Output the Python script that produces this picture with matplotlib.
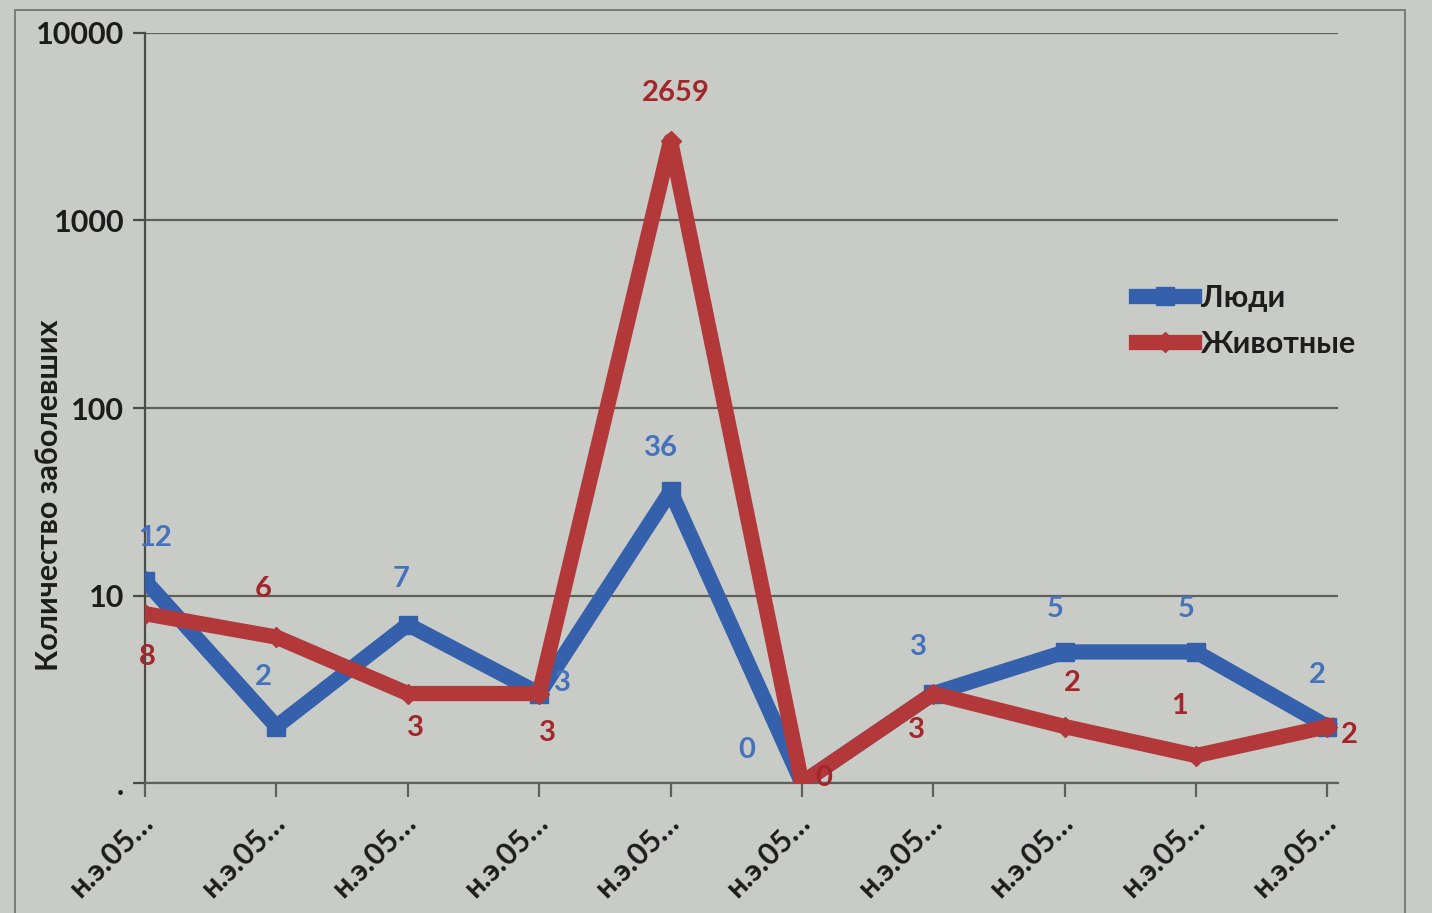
import numpy as np
import matplotlib
matplotlib.use('Agg')
import matplotlib.pyplot as plt
from matplotlib.patches import Rectangle

plt.rcParams['font.family'] = ['Lato', 'DejaVu Sans']

# data
categories = ['н.э.05…'] * 10
people = [12, 2, 7, 3, 36, 0, 3, 5, 5, 2]
animals = [8, 6, 3, 3, 2659, 0, 3, 2, 1.4, 2]
series_names = ['Люди', 'Животные']
ytick_vals = [1, 10, 100, 1000, 10000]
ytick_text = ['.', '10', '100', '1000', '10000']

# label offsets in pixels (dx, dy) for each point
people_off = [(10, 43), (-13, 50), (-7, 46), (23, 11), (-10, 43),
              (-55, 33), (-15, 47), (-10, 43), (-10, 43), (-10, 52)]
animals_off = [(2, -43), (-13, 48), (8, -34), (8, -39), (5, 48),
               (22, 5), (-17, -36), (8, 44), (-17, 50), (22, -8)]

bg = '#c9ccc6'
blue = '#3560ab'
red = '#b3383a'
blue_txt = '#4572bb'
red_txt = '#a3262b'

fig = plt.figure(figsize=(14.32, 9.13), dpi=100, facecolor=bg)
ax = fig.add_axes([145 / 1432, 1 - 783 / 913, 1193 / 1432, 750 / 913])
ax.set_facecolor(bg)

x = np.arange(len(categories))
# zeros sit on the axis floor of the log scale
p_plot = np.clip(np.array(people, dtype=float), 1, None)
a_plot = np.clip(np.array(animals, dtype=float), 1, None)

ax.plot(x, p_plot, color=blue, lw=11, marker='s', ms=13,
        solid_joinstyle='round', label=series_names[0], zorder=3)
ax.plot(x, a_plot, color=red, lw=11, marker='D', ms=10,
        solid_joinstyle='round', label=series_names[1], zorder=4)

for i in range(len(x)):
    ax.annotate('{:.0f}'.format(people[i]), (x[i], p_plot[i]),
                xytext=people_off[i], textcoords='offset pixels',
                ha='center', va='center', fontsize=21, color=blue_txt,
                fontweight='bold', zorder=5)
    ax.annotate('{:.0f}'.format(animals[i]), (x[i], a_plot[i]),
                xytext=animals_off[i], textcoords='offset pixels',
                ha='center', va='center', fontsize=21, color=red_txt,
                fontweight='bold', zorder=5)

ax.set_yscale('log')
ax.set_ylim(1, 10000)
ax.set_xlim(0, 9.08)
ax.set_yticks(ytick_vals)
ax.set_yticklabels(ytick_text)
ax.yaxis.set_minor_locator(matplotlib.ticker.NullLocator())
ax.set_xticks(x)
ax.set_xticklabels(categories, rotation=45, ha='right', va='top',
                   rotation_mode='anchor')
ax.grid(axis='y', color='#5e605d', lw=1.6)
ax.set_axisbelow(True)

for s in ['top', 'right']:
    ax.spines[s].set_visible(False)
ax.spines['left'].set_color('#4a4c4a')
ax.spines['bottom'].set_color('#5e605d')
ax.spines['left'].set_linewidth(1.6)
ax.spines['bottom'].set_linewidth(1.6)
ax.tick_params(axis='y', length=9, width=1.6, color='#4a4c4a',
               labelsize=22, pad=6, labelcolor='#1c1c1c')
ax.tick_params(axis='x', length=10, width=1.6, color='#5e605d',
               labelsize=22, pad=8, labelcolor='#1c1c1c')
for t in ax.get_yticklabels() + ax.get_xticklabels():
    t.set_fontweight('bold')
# push the rotated category labels a little to the left of their ticks
for t in ax.get_xticklabels():
    t.set_transform(t.get_transform() + matplotlib.transforms.ScaledTranslation(-6 / 100, 0, fig.dpi_scale_trans))

ax.set_ylabel('Количество заболевших', fontsize=22, fontweight='bold',
              color='#1c1c1c')
ax.yaxis.set_label_coords(-0.069, 0.384)

leg = ax.legend(loc='upper left', bbox_to_anchor=(1108 / 1432, 1 - 256 / 913),
                bbox_transform=fig.transFigure, frameon=False, fontsize=22,
                handlelength=1.9, handletextpad=0.25, labelspacing=0.6)
for t in leg.get_texts():
    t.set_fontweight('bold')
    t.set_color('#1c1c1c')

# outer chart frame
fig.patches.append(Rectangle((15 / 1432, -0.1), 1390 / 1432, 1.1 - 10 / 913,
                             transform=fig.transFigure, fill=False,
                             edgecolor='#7a7c7a', lw=1.4))

fig.savefig('out.png', dpi=100, facecolor=bg)
